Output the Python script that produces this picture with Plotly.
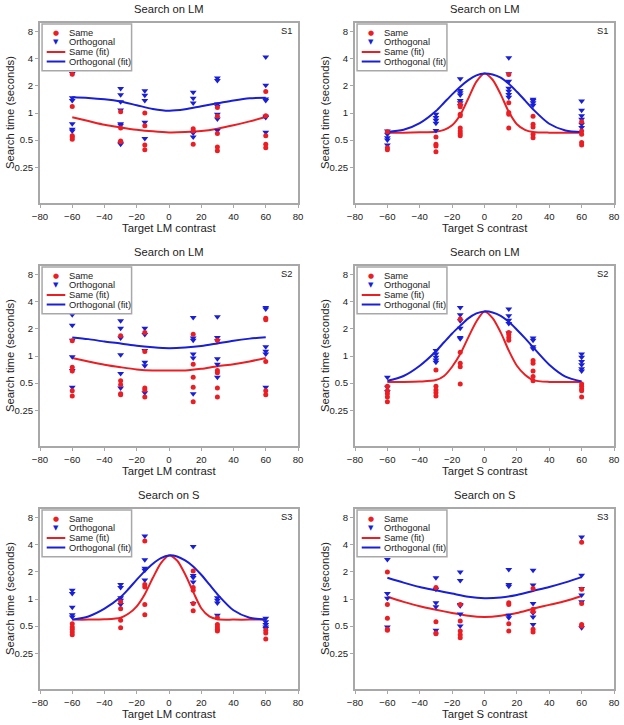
import plotly.graph_objects as go

# ---------------- data ----------------
X_LEVELS = [-60, -30, -15, 15, 30, 60]

PANEL_TITLES = ["Search on LM", "Search on LM", "Search on LM",
                "Search on LM", "Search on S", "Search on S"]
PANEL_XLABELS = ["Target LM contrast", "Target S contrast", "Target LM contrast",
                 "Target S contrast", "Target LM contrast", "Target S contrast"]
PANEL_SUBJECTS = ["S1", "S1", "S2", "S2", "S3", "S3"]
Y_LABEL = "Search time (seconds)"

Y_TICKS = [0.25, 0.5, 1, 2, 4, 8]
Y_TICKTEXT = ["0.25", "0.5", "1", "2", "4", "8"]
X_TICKS = [-80, -60, -40, -20, 0, 20, 40, 60, 80]

# search times (s), one sub-list per X_LEVELS entry
P1_SAME = [[2.7, 1.18, 0.56, 0.54, 0.51], [1.03, 0.68, 0.49, 0.48],
           [1.0, 0.72, 0.44, 0.39], [0.67, 0.63, 0.45],
           [1.15, 0.92, 0.59, 0.42, 0.38], [1.73, 0.93, 0.56, 0.45, 0.41]]
P1_ORTH = [[2.75, 1.48, 1.38, 0.76, 0.66, 0.63],
           [1.87, 1.6, 1.33, 1.08, 0.76, 0.73, 0.46, 0.45],
           [1.77, 1.57, 1.38, 0.79, 0.52], [1.70, 1.46, 1.29, 0.60, 0.54],
           [2.45, 2.3, 1.26, 1.19, 0.97, 0.86, 0.64],
           [4.2, 2.03, 1.43, 1.38, 0.92, 0.89, 0.61]]

P2_SAME = [[0.62, 0.41, 0.39], [0.54, 0.45, 0.43, 0.37],
           [1.25, 1.17, 0.97, 0.93, 0.68, 0.63, 0.59, 0.56],
           [2.68, 1.30, 1.01, 0.97, 0.68],
           [0.92, 0.75, 0.70, 0.58, 0.53], [0.80, 0.63, 0.58, 0.47, 0.44]]
P2_ORTH = [[0.63, 0.58, 0.53, 0.50, 0.44], [0.97, 0.89, 0.83, 0.77, 0.64],
           [2.4, 1.78, 1.68, 1.58, 1.38, 1.30, 1.20],
           [4.1, 2.73, 2.26, 1.88, 1.75, 1.61, 1.50],
           [1.42, 1.38, 1.30, 1.22], [1.36, 1.07, 0.93, 0.85, 0.75, 0.69]]

P3_SAME = [[1.48, 0.75, 0.68, 0.41, 0.36], [1.68, 0.53, 0.48, 0.38, 0.37],
           [1.83, 1.12, 0.44, 0.42, 0.35], [1.75, 0.81, 0.58, 0.45, 0.31],
           [1.5, 0.69, 0.65, 0.44, 0.35], [2.62, 2.53, 0.87, 0.41, 0.37]]
P3_ORTH = [[2.87, 2.2, 1.5, 0.98, 0.69, 0.45], [2.47, 2.03, 1.58, 1.03, 0.64, 0.44],
           [2.04, 1.73, 1.15, 0.85, 0.78, 0.39], [2.68, 1.58, 1.5, 1.05, 0.95, 0.38],
           [2.73, 1.61, 1.48, 0.93, 0.81, 0.58], [3.46, 3.33, 1.27, 1.13, 1.05, 0.45]]

P4_SAME = [[0.46, 0.41, 0.38, 0.35, 0.31], [0.70, 0.46, 0.42, 0.39, 0.36],
           [2.57, 1.10, 0.83, 0.76, 0.49], [1.83, 1.73, 1.61, 1.5],
           [0.89, 0.83, 0.68, 0.59, 0.53], [0.49, 0.46, 0.43, 0.41, 0.35]]
P4_ORTH = [[0.58, 0.45, 0.40], [1.15, 1.05, 0.97, 0.90, 0.85],
           [3.46, 2.87, 2.47, 2.04, 1.61, 1.55], [3.33, 2.8, 2.5, 2.3, 1.8],
           [1.58, 1.5, 1.27, 1.2], [1.05, 0.97, 0.87, 0.80, 0.72, 0.68]]

P5_SAME = [[0.53, 0.49, 0.46, 0.43, 0.40], [0.93, 0.78, 0.58, 0.48],
           [4.4, 1.45, 1.36, 0.87, 0.67], [2.05, 1.34, 1.25, 0.89, 0.74],
           [0.62, 0.52, 0.49, 0.46, 0.44], [0.45, 0.42, 0.36]]
P5_ORTH = [[1.25, 1.15, 0.81, 0.67, 0.63], [1.45, 1.34, 1.03, 0.97, 0.87],
           [5.0, 2.73, 2.2, 2.08, 1.63], [3.84, 1.83, 1.73, 1.54, 0.89],
           [1.03, 0.97, 0.90, 0.66], [0.61, 0.56, 0.52, 0.49, 0.47]]

P6_SAME = [[2.0, 0.87, 0.61, 0.46, 0.45], [1.34, 0.56, 0.42, 0.41],
           [0.87, 0.57, 0.44, 0.40, 0.37], [0.91, 0.87, 0.53, 0.44],
           [1.31, 0.77, 0.72, 0.46, 0.43], [4.27, 1.28, 0.89, 0.52, 0.50]]
P6_ORTH = [[2.75, 1.15, 1.02, 0.49], [1.72, 1.28, 0.91, 0.82, 0.45],
           [2.0, 1.61, 0.87, 0.84, 0.68, 0.50], [2.13, 1.45, 1.39, 0.66, 0.62],
           [2.08, 1.43, 0.89, 0.70, 0.63, 0.52], [4.9, 1.84, 1.31, 1.11, 0.93, 0.48]]

# fitted curves
FIT_X_BROAD = [-60, -50, -40, -30, -20, -10, 0, 10, 20, 30, 40, 50, 60]
FIT_X_PEAK = [-60, -50, -40, -30, -25, -20, -15, -10, -5, 0, 5, 10, 15, 20, 25, 30, 40, 50, 60]

P1_FIT_SAME = [0.895, 0.814, 0.741, 0.692, 0.652, 0.625, 0.609, 0.614, 0.630, 0.669, 0.729, 0.807, 0.902]
P1_FIT_ORTH = [1.495, 1.47, 1.42, 1.34, 1.22, 1.11, 1.06, 1.10, 1.19, 1.28, 1.38, 1.46, 1.48]

P2_FIT_SAME = [0.605, 0.605, 0.61, 0.62, 0.65, 0.73, 0.95, 1.45, 2.23, 2.75, 2.34, 1.61, 1.03,
               0.75, 0.65, 0.616, 0.605, 0.605, 0.605]
P2_FIT_ORTH = [0.616, 0.65, 0.77, 1.05, 1.30, 1.61, 1.96, 2.32, 2.62, 2.75, 2.68, 2.47, 2.11,
               1.72, 1.38, 1.10, 0.76, 0.64, 0.616]

P3_FIT_SAME = [0.95, 0.87, 0.80, 0.75, 0.71, 0.69, 0.69, 0.69, 0.72, 0.77, 0.81, 0.87, 0.95]
P3_FIT_ORTH = [1.61, 1.54, 1.45, 1.38, 1.30, 1.25, 1.22, 1.24, 1.29, 1.38, 1.48, 1.56, 1.62]

P4_FIT_SAME = [0.515, 0.515, 0.52, 0.54, 0.60, 0.76, 1.05, 1.61, 2.42, 3.13, 2.64, 1.83, 1.15,
               0.78, 0.62, 0.54, 0.515, 0.515, 0.515]
P4_FIT_ORTH = [0.53, 0.60, 0.78, 1.13, 1.42, 1.78, 2.17, 2.62, 2.97, 3.13, 3.05, 2.80, 2.40,
               1.96, 1.58, 1.25, 0.80, 0.59, 0.52]

P5_FIT_SAME = [0.59, 0.59, 0.595, 0.62, 0.69, 0.83, 1.13, 1.72, 2.51, 3.05, 2.68, 1.88, 1.20,
               0.79, 0.64, 0.595, 0.59, 0.59, 0.59]
P5_FIT_ORTH = [0.59, 0.64, 0.78, 1.05, 1.30, 1.64, 2.04, 2.47, 2.85, 3.05, 2.97, 2.68, 2.30,
               1.86, 1.45, 1.13, 0.75, 0.62, 0.59]

P6_FIT_SAME = [1.06, 0.93, 0.83, 0.76, 0.70, 0.65, 0.63, 0.65, 0.70, 0.78, 0.86, 0.95, 1.08]
P6_FIT_ORTH = [1.72, 1.52, 1.36, 1.25, 1.15, 1.06, 1.02, 1.04, 1.11, 1.23, 1.36, 1.53, 1.75]

PANELS = [
    (P1_SAME, P1_ORTH, FIT_X_BROAD, P1_FIT_SAME, P1_FIT_ORTH),
    (P2_SAME, P2_ORTH, FIT_X_PEAK, P2_FIT_SAME, P2_FIT_ORTH),
    (P3_SAME, P3_ORTH, FIT_X_BROAD, P3_FIT_SAME, P3_FIT_ORTH),
    (P4_SAME, P4_ORTH, FIT_X_PEAK, P4_FIT_SAME, P4_FIT_ORTH),
    (P5_SAME, P5_ORTH, FIT_X_PEAK, P5_FIT_SAME, P5_FIT_ORTH),
    (P6_SAME, P6_ORTH, FIT_X_BROAD, P6_FIT_SAME, P6_FIT_ORTH),
]

# ---------------- style / layout ----------------
W, H = 624, 725
RED = "rgb(235,30,35)"
BLUE = "rgb(25,30,215)"
FRAME = "#a8a8a8"
TXT = "#222222"
FONT = "Arial, 'Liberation Sans', sans-serif"

# plot-frame positions in window pixels
COL_X = [(40, 298), (355, 614)]
ROW_Y = [(23, 203), (266, 446), (509, 689)]


def px(x):
    return x / W


def py(y):
    return 1 - y / H


def flat(levels, groups):
    xs, ys = [], []
    for xv, g in zip(levels, groups):
        for v in g:
            xs.append(xv)
            ys.append(v)
    return xs, ys


fig = go.Figure()
layout = dict(width=W, height=H, margin=dict(l=0, r=0, t=0, b=0, autoexpand=False),
              paper_bgcolor="white", plot_bgcolor="white", showlegend=False,
              font=dict(family=FONT, color=TXT))
annotations = []
shapes = []

for i, (same, orth, fx, fsame, forth) in enumerate(PANELS):
    r, c = divmod(i, 2)
    n = "" if i == 0 else str(i + 1)
    xa, ya = "x" + n, "y" + n
    x0, x1 = COL_X[c]
    ytop, ybot = ROW_Y[r]

    sx, sy = flat(X_LEVELS, same)
    ox, oy = flat(X_LEVELS, orth)
    fig.add_trace(go.Scatter(x=fx, y=fsame, mode="lines", name="Same (fit)",
                             line=dict(color=RED, width=2, shape="spline", smoothing=0.8),
                             xaxis=xa, yaxis=ya))
    fig.add_trace(go.Scatter(x=fx, y=forth, mode="lines", name="Orthogonal (fit)",
                             line=dict(color=BLUE, width=2, shape="spline", smoothing=0.8),
                             xaxis=xa, yaxis=ya))
    fig.add_trace(go.Scatter(x=ox, y=oy, mode="markers", name="Orthogonal",
                             marker=dict(symbol="triangle-down", size=6, color=BLUE),
                             xaxis=xa, yaxis=ya))
    fig.add_trace(go.Scatter(x=sx, y=sy, mode="markers", name="Same",
                             marker=dict(symbol="circle", size=5, color=RED),
                             xaxis=xa, yaxis=ya))

    axcommon = dict(showgrid=False, zeroline=False, showline=True, mirror=True,
                    automargin=False,
                    linecolor=FRAME, linewidth=2, ticks="outside", ticklen=3,
                    tickcolor=FRAME, tickwidth=1,
                    tickfont=dict(size=9.6, family=FONT, color=TXT))
    layout["xaxis" + n] = dict(axcommon, domain=[px(x0), px(x1)], anchor=ya,
                               range=[-80, 80], tickvals=X_TICKS)
    layout["yaxis" + n] = dict(axcommon, domain=[py(ybot), py(ytop)], anchor=xa,
                               type="log", range=[-1, 1], tickvals=Y_TICKS,
                               ticktext=Y_TICKTEXT)

    # axis titles
    annotations.append(dict(text=PANEL_XLABELS[i], xref="paper", yref="paper",
                            x=px((x0 + x1) / 2), y=py(ybot + 25),
                            xanchor="center", yanchor="middle", showarrow=False,
                            font=dict(size=11.3, family=FONT, color=TXT)))
    annotations.append(dict(text=Y_LABEL, xref="paper", yref="paper",
                            x=px(x0 - 30), y=py((ytop + ybot) / 2), textangle=-90,
                            xanchor="center", yanchor="middle", showarrow=False,
                            font=dict(size=11.3, family=FONT, color=TXT)))
    # panel title
    annotations.append(dict(text=PANEL_TITLES[i], xref="paper", yref="paper",
                            x=px((x0 + x1) / 2), y=py(ytop - 14),
                            xanchor="center", yanchor="middle", showarrow=False,
                            font=dict(size=11.2, family=FONT, color=TXT)))
    # subject label
    annotations.append(dict(text=PANEL_SUBJECTS[i], xref=xa + " domain", yref=ya + " domain",
                            x=0.985, y=0.955, xanchor="right", yanchor="middle",
                            showarrow=False, font=dict(size=9.3, family=FONT, color=TXT)))

    # legend box (compact, as in the original)
    shapes.append(dict(type="rect", xref=xa + " domain", yref=ya + " domain",
                       x0=0.008, x1=0.355, y0=0.735, y1=0.994,
                       line=dict(color=FRAME, width=1.5), fillcolor="white", layer="above"))
    rows = [0.947, 0.893, 0.839, 0.786]
    labels = ["Same", "Orthogonal", "Same (fit)", "Orthogonal (fit)"]
    for k, (yy, lab) in enumerate(zip(rows, labels)):
        annotations.append(dict(text=lab, xref=xa + " domain", yref=ya + " domain",
                                x=0.103, y=yy, xanchor="left", yanchor="middle",
                                showarrow=False, font=dict(size=9.3, family=FONT, color=TXT)))
    annotations.append(dict(text="●", xref=xa + " domain", yref=ya + " domain",
                            x=0.062, y=rows[0], xanchor="center", yanchor="middle",
                            showarrow=False, font=dict(size=7, family="DejaVu Sans", color=RED)))
    annotations.append(dict(text="▼", xref=xa + " domain", yref=ya + " domain",
                            x=0.062, y=rows[1], xanchor="center", yanchor="middle",
                            showarrow=False, font=dict(size=7, family="DejaVu Sans", color=BLUE)))
    for yy, col in ((rows[2], RED), (rows[3], BLUE)):
        shapes.append(dict(type="line", xref=xa + " domain", yref=ya + " domain",
                           x0=0.026, x1=0.098, y0=yy, y1=yy,
                           line=dict(color=col, width=2), layer="above"))

layout["annotations"] = annotations
layout["shapes"] = shapes
fig.update_layout(**layout)
# the browser's default 8px page margin would shift the figure; remove it
fig.write_html("out.html", config={"displayModeBar": False},
               post_script="document.body.style.margin='0px';document.body.style.overflow='hidden';")
